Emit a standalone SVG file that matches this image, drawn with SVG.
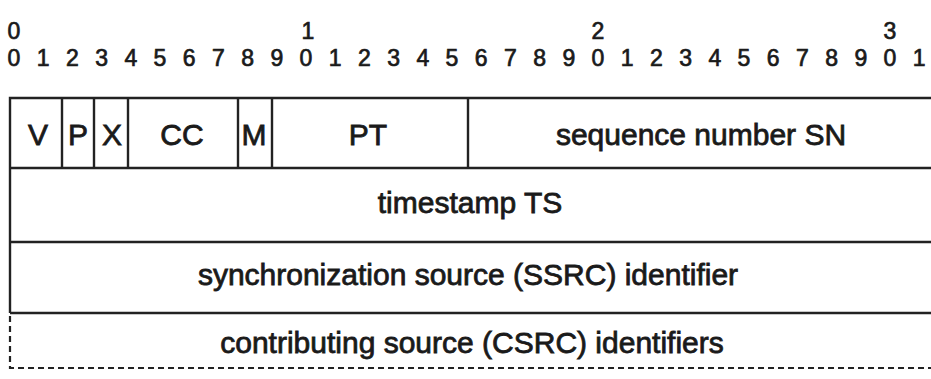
<svg xmlns="http://www.w3.org/2000/svg" width="931" height="379" viewBox="0 0 931 379">
<style>
.num{font-family:"Liberation Sans",Arial,sans-serif;font-size:23px;fill:#1a1a1a;stroke:#1a1a1a;stroke-width:0.7;text-anchor:middle}
.lbl{font-family:"Liberation Sans",Arial,sans-serif;font-size:30px;fill:#1a1a1a;stroke:#1a1a1a;stroke-width:0.8;text-anchor:middle}
.ln{stroke:#222;stroke-width:2.4;fill:none}
.dash{stroke:#222;stroke-width:2.2;fill:none;stroke-dasharray:6 4}
</style>
<rect width="931" height="379" fill="#fff"/>
<g id="bit-scale">
<text class="num" x="14" y="38.5">0</text>
<text class="num" x="308" y="38.5">1</text>
<text class="num" x="598" y="38.5">2</text>
<text class="num" x="890" y="38.5">3</text>
<text class="num" x="14" y="66">0</text><text class="num" x="43.2" y="66">1</text><text class="num" x="72.4" y="66">2</text><text class="num" x="101.6" y="66">3</text><text class="num" x="130.8" y="66">4</text><text class="num" x="160" y="66">5</text><text class="num" x="189.2" y="66">6</text><text class="num" x="218.4" y="66">7</text><text class="num" x="247.6" y="66">8</text><text class="num" x="276.8" y="66">9</text><text class="num" x="306" y="66">0</text><text class="num" x="335.2" y="66">1</text><text class="num" x="364.4" y="66">2</text><text class="num" x="393.6" y="66">3</text><text class="num" x="422.8" y="66">4</text><text class="num" x="452" y="66">5</text><text class="num" x="481.2" y="66">6</text><text class="num" x="510.4" y="66">7</text><text class="num" x="539.6" y="66">8</text><text class="num" x="568.8" y="66">9</text><text class="num" x="598" y="66">0</text><text class="num" x="627.2" y="66">1</text><text class="num" x="656.4" y="66">2</text><text class="num" x="685.6" y="66">3</text><text class="num" x="714.8" y="66">4</text><text class="num" x="744" y="66">5</text><text class="num" x="773.2" y="66">6</text><text class="num" x="802.4" y="66">7</text><text class="num" x="831.6" y="66">8</text><text class="num" x="860.8" y="66">9</text><text class="num" x="890" y="66">0</text><text class="num" x="919.2" y="66">1</text>
</g>
<g id="frame">
<path class="ln" d="M10,313 V98 H935 M10,168 H935 M10,242 H935 M10,313 H935"/>
<path class="dash" d="M10,316 V368 H935"/>
</g>
<g id="field-V"><path class="ln" d="M62,98 V168"/><text class="lbl" x="38" y="145">V</text></g>
<g id="field-P"><path class="ln" d="M94,98 V168"/><text class="lbl" x="78" y="145">P</text></g>
<g id="field-X"><path class="ln" d="M128,98 V168"/><text class="lbl" x="112" y="145">X</text></g>
<g id="field-CC"><path class="ln" d="M238,98 V168"/><text class="lbl" x="182" y="145">CC</text></g>
<g id="field-M"><path class="ln" d="M272,98 V168"/><text class="lbl" x="254" y="145">M</text></g>
<g id="field-PT"><path class="ln" d="M468,98 V168"/><text class="lbl" x="368" y="145">PT</text></g>
<g id="field-SN"><text class="lbl" x="701" y="145">sequence number SN</text></g>
<g id="field-TS"><text class="lbl" x="470" y="213">timestamp TS</text></g>
<g id="field-SSRC"><text class="lbl" x="468" y="285">synchronization source (SSRC) identifier</text></g>
<g id="field-CSRC"><text class="lbl" x="472" y="353">contributing source (CSRC) identifiers</text></g>
</svg>
